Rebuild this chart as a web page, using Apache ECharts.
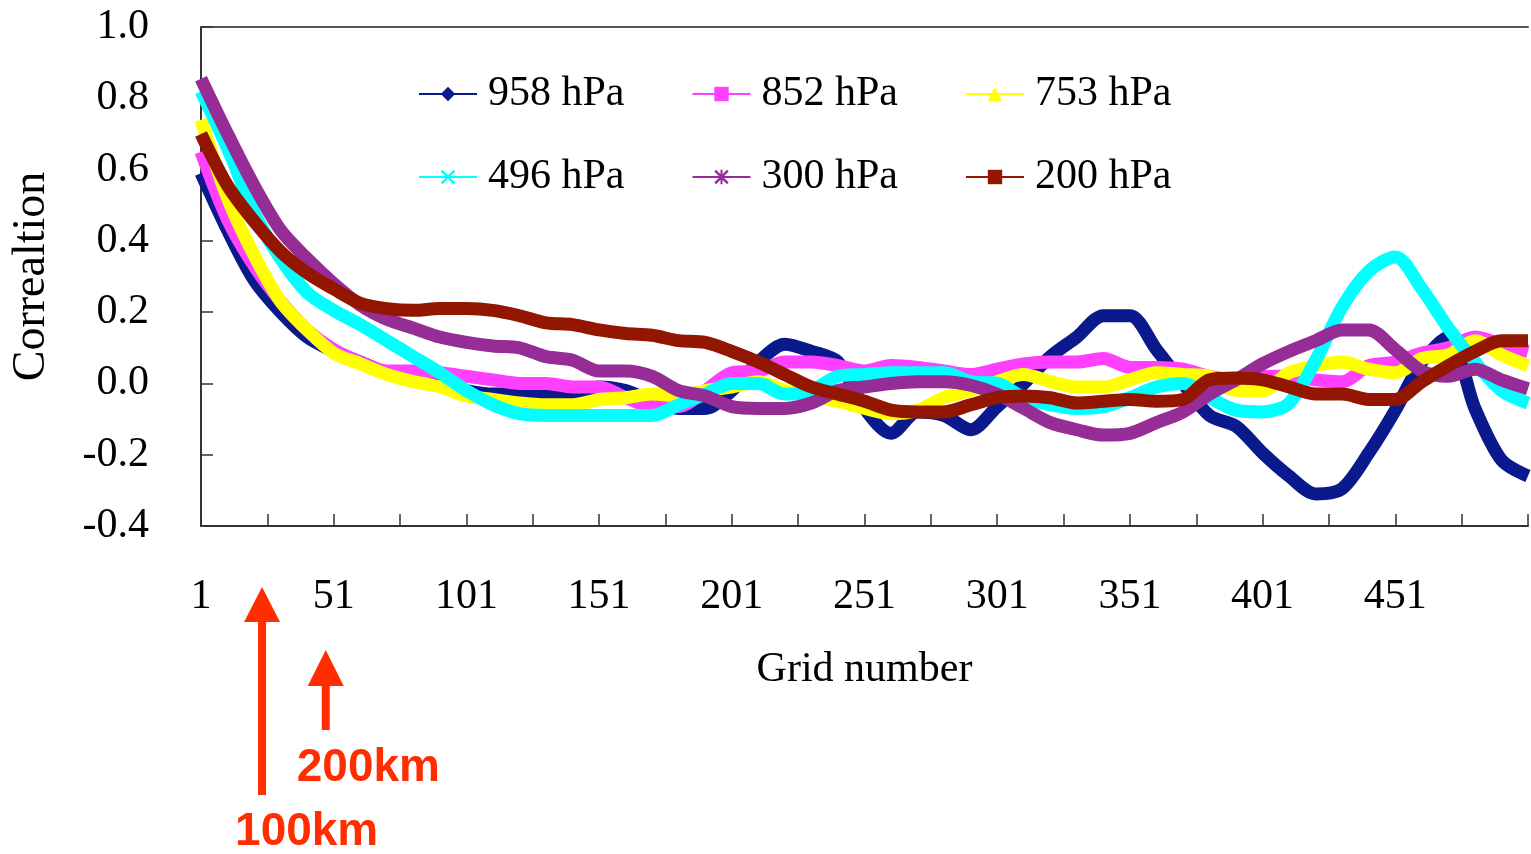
<!DOCTYPE html>
<html>
<head>
<meta charset="utf-8">
<script src="https://cdn.jsdelivr.net/npm/echarts@6/dist/echarts.min.js"></script>
<style>
  html, body { margin: 0; padding: 0; background: #ffffff; }
  #chart { width: 1531px; height: 854px; }
</style>
</head>
<body>
<div id="chart"></div>
<script>
// Grid numbers at which the correlation is sampled
const gridNumbers = [1, 11, 21, 31, 41, 51, 61, 71, 81, 91, 101, 111, 121, 131, 141, 151, 161, 171, 181, 191,
  201, 211, 221, 231, 241, 251, 261, 271, 281, 291, 301, 311, 321, 331, 341, 351, 361, 371, 381, 391,
  401, 411, 421, 431, 441, 451, 461, 471, 481, 491, 501];

// Correlation per pressure level
const hpa958 = [0.59, 0.43, 0.29, 0.20, 0.13, 0.09, 0.06, 0.03, 0.01, 0.0, -0.02, -0.03, -0.03, -0.03, -0.03, -0.01, -0.02, -0.05, -0.07, -0.07,
  -0.02, 0.06, 0.11, 0.09, 0.06, -0.07, -0.14, -0.08, -0.09, -0.13, -0.065, 0.0, 0.075, 0.13, 0.19, 0.19, 0.095, 0.0, -0.09, -0.12,
  -0.195, -0.26, -0.31, -0.295, -0.195, -0.075, 0.06, 0.13, -0.07, -0.215, -0.26];
const hpa852 = [0.65, 0.46, 0.33, 0.23, 0.15, 0.095, 0.06, 0.035, 0.035, 0.03, 0.02, 0.01, 0.0, 0.0, -0.01, -0.01, -0.04, -0.065, -0.065, -0.02,
  0.03, 0.035, 0.06, 0.06, 0.05, 0.035, 0.05, 0.045, 0.035, 0.025, 0.04, 0.055, 0.06, 0.06, 0.07, 0.045, 0.045, 0.04, 0.02, 0.01,
  0.02, 0.02, 0.01, 0.005, 0.05, 0.06, 0.085, 0.1, 0.13, 0.11, 0.09];
const hpa753 = [0.74, 0.52, 0.36, 0.23, 0.15, 0.085, 0.055, 0.025, 0.005, -0.01, -0.035, -0.045, -0.055, -0.06, -0.06, -0.045, -0.04, -0.03, -0.035, -0.02,
  -0.01, 0.005, -0.02, -0.035, -0.05, -0.07, -0.085, -0.075, -0.04, -0.02, 0.005, 0.025, 0.005, -0.01, -0.01, 0.01, 0.03, 0.025, 0.02, -0.02,
  -0.02, 0.03, 0.05, 0.06, 0.04, 0.03, 0.07, 0.08, 0.12, 0.08, 0.05];
const hpa496 = [0.82, 0.66, 0.48, 0.35, 0.255, 0.205, 0.165, 0.12, 0.075, 0.03, -0.02, -0.06, -0.085, -0.09, -0.09, -0.09, -0.09, -0.09, -0.06, -0.03,
  0.0, 0.0, -0.03, -0.02, 0.02, 0.025, 0.03, 0.03, 0.03, 0.005, 0.0, -0.04, -0.06, -0.07, -0.065, -0.04, -0.01, 0.0, -0.04, -0.075,
  -0.08, -0.055, 0.065, 0.215, 0.315, 0.355, 0.265, 0.155, 0.06, -0.02, -0.055];
const hpa300 = [0.855, 0.70, 0.555, 0.43, 0.35, 0.28, 0.22, 0.18, 0.155, 0.13, 0.115, 0.105, 0.1, 0.075, 0.065, 0.035, 0.035, 0.02, -0.02, -0.035,
  -0.065, -0.07, -0.07, -0.055, -0.02, -0.01, 0.0, 0.005, 0.005, -0.005, -0.03, -0.07, -0.11, -0.13, -0.145, -0.14, -0.11, -0.08, -0.03, 0.01,
  0.055, 0.09, 0.12, 0.15, 0.15, 0.095, 0.035, 0.02, 0.04, 0.01, -0.015];
const hpa200 = [0.70, 0.555, 0.455, 0.37, 0.31, 0.265, 0.225, 0.21, 0.205, 0.21, 0.21, 0.205, 0.19, 0.17, 0.165, 0.15, 0.14, 0.135, 0.12, 0.115,
  0.09, 0.06, 0.025, -0.01, -0.03, -0.05, -0.075, -0.08, -0.08, -0.06, -0.04, -0.035, -0.04, -0.055, -0.05, -0.045, -0.05, -0.045, 0.01, 0.015,
  0.01, -0.01, -0.03, -0.03, -0.045, -0.045, 0.005, 0.05, 0.09, 0.12, 0.12];

const levelNames = ['958 hPa', '852 hPa', '753 hPa', '496 hPa', '300 hPa', '200 hPa'];
const levelValues = [hpa958, hpa852, hpa753, hpa496, hpa300, hpa200];
const levelColors = ['#0a1a8c', '#ff40ff', '#ffff00', '#00ffff', '#962c96', '#921600'];
const levelSymbols = [
  'diamond',
  'rect',
  'triangle',
  'path://M0,1.2L1.2,0L5,3.8L8.8,0L10,1.2L6.2,5L10,8.8L8.8,10L5,6.2L1.2,10L0,8.8L3.8,5Z',
  'path://M0,1.2L1.2,0L5,3.8L8.8,0L10,1.2L6.2,5L10,8.8L8.8,10L5,6.2L1.2,10L0,8.8L3.8,5Z M4.3,0L5.7,0L5.7,10L4.3,10Z',
  'rect'
];

const yTicks = [-0.4, -0.2, 0.0, 0.2, 0.4, 0.6, 0.8, 1.0];

// Category axis: one slot per grid number from 1 to 501
const categories = [];
for (let g = 1; g <= 501; g++) categories.push(String(g));

const serif = '"Liberation Serif", "Times New Roman", serif';
const textBase = { fontFamily: serif, fontSize: 42, color: '#000000' };

const chart = echarts.init(document.getElementById('chart'), null, { renderer: 'canvas' });

const series = levelNames.map((name, i) => ({
  name: name,
  type: 'line',
  xAxisIndex: 0,
  yAxisIndex: 0,
  data: gridNumbers.map((g, j) => [String(g), levelValues[i][j]]),
  symbol: levelSymbols[i],
  showSymbol: false,
  smooth: 0.3,
  color: levelColors[i],
  lineStyle: { width: 13, color: levelColors[i] },
  itemStyle: { color: levelColors[i] },
  emphasis: { disabled: true },
  animation: false
}));

const legendCommon = {
  left: 418,
  orient: 'horizontal',
  itemWidth: 58,
  itemHeight: 18,
  itemGap: 67,
  padding: 0,
  textStyle: Object.assign({}, textBase, { lineHeight: 42, padding: [0, 0, 0, 6] }),
  lineStyle: { width: 2 },
  selectedMode: false
};

chart.setOption({
  backgroundColor: '#ffffff',
  animation: false,
  grid: { left: 201, top: 27, width: 1330, height: 499, containLabel: false },
  legend: [
    Object.assign({}, legendCommon, { top: 73, data: levelNames.slice(0, 3) }),
    Object.assign({}, legendCommon, { top: 156, data: levelNames.slice(3, 6) })
  ],
  xAxis: [
    {
      type: 'category',
      data: categories,
      boundaryGap: false,
      position: 'bottom',
      axisLine: { show: true, onZero: false, lineStyle: { color: '#333333', width: 2 } },
      axisTick: { show: true, inside: true, length: 12, interval: 24, lineStyle: { color: '#333333', width: 1.5 } },
      axisLabel: Object.assign({}, textBase, {
        interval: 49,
        margin: 50,
        formatter: (v) => (v === '501' ? '' : v)
      }),
      splitLine: { show: false },
      name: 'Grid number',
      nameLocation: 'middle',
      nameGap: 123,
      nameTextStyle: textBase
    },
    {
      type: 'category',
      data: categories,
      boundaryGap: false,
      position: 'top',
      axisLine: { show: true, onZero: false, lineStyle: { color: '#555555', width: 2 } },
      axisTick: { show: false },
      axisLabel: { show: false },
      splitLine: { show: false }
    }
  ],
  yAxis: {
    type: 'value',
    min: yTicks[0],
    max: yTicks[yTicks.length - 1],
    interval: 0.2,
    axisLine: { show: true, onZero: false, lineStyle: { color: '#333333', width: 2 } },
    axisTick: { show: true, inside: true, length: 12, lineStyle: { color: '#333333', width: 1.5 } },
    splitLine: { show: false },
    axisLabel: Object.assign({}, textBase, {
      margin: 52,
      formatter: (v) => (Math.abs(v) < 1e-9 ? '0.0' : v.toFixed(1))
    }),
    name: 'Correaltion',
    nameLocation: 'middle',
    nameRotate: 90,
    nameGap: 146,
    nameTextStyle: Object.assign({}, textBase, { fontSize: 46 })
  },
  series: series
});

// Red arrows marking 100 km and 200 km along the grid axis
const arrowRed = '#ff2d00';
function arrow(xPix, tipY, baseY, tailY) {
  return {
    type: 'polygon',
    shape: {
      points: [
        [xPix, tipY], [xPix + 18, baseY], [xPix + 4, baseY], [xPix + 4, tailY],
        [xPix - 4, tailY], [xPix - 4, baseY], [xPix - 18, baseY]
      ]
    },
    style: { fill: arrowRed },
    silent: true
  };
}
const arrowLabelStyle = { fontFamily: '"Liberation Sans", Arial, sans-serif', fontWeight: 'bold', fontSize: 46, fill: arrowRed };

const x100 = chart.convertToPixel({ xAxisIndex: 0 }, '24');
const x200 = chart.convertToPixel({ xAxisIndex: 0 }, '48');

chart.setOption({
  graphic: [
    arrow(x100, 587, 622, 795),
    arrow(x200, 650, 686, 730),
    {
      type: 'text', left: x200 - 29, top: 745,
      style: Object.assign({ text: '200km' }, arrowLabelStyle), silent: true
    },
    {
      type: 'text', left: x100 - 27, top: 809,
      style: Object.assign({ text: '100km' }, arrowLabelStyle), silent: true
    }
  ]
});
</script>
</body>
</html>
